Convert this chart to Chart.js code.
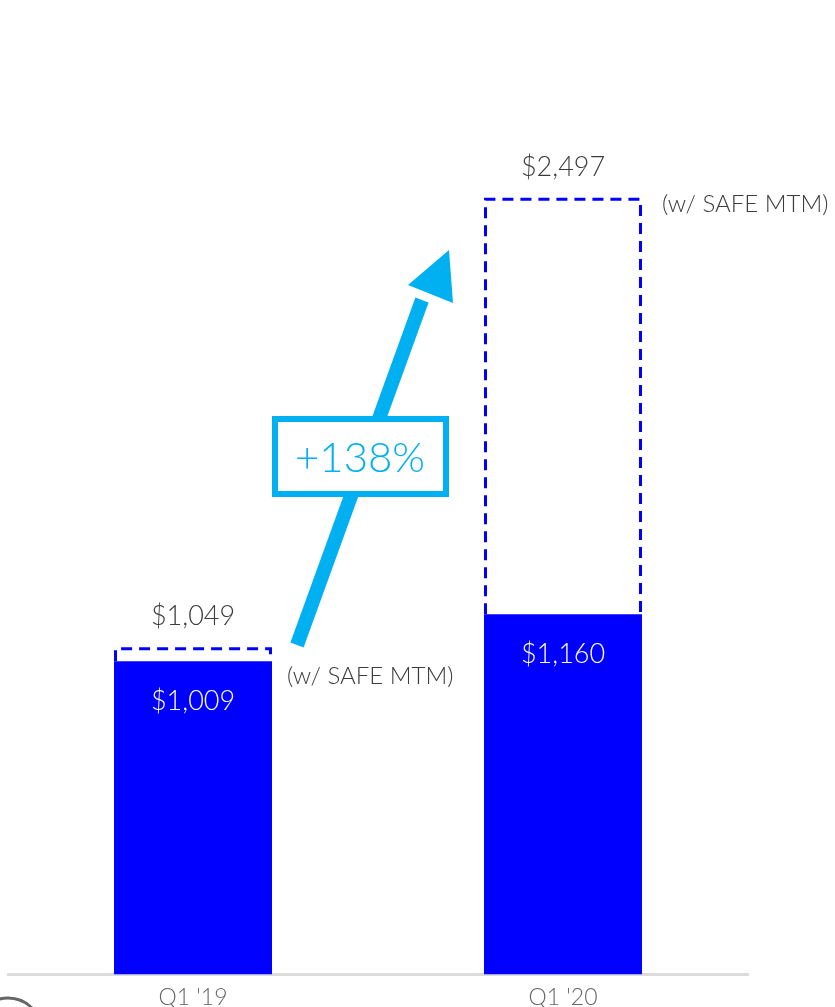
<!DOCTYPE html>
<html lang="en">
<head>
<meta charset="UTF-8">
<script src="https://cdn.jsdelivr.net/npm/chart.js"></script>
<title>Net loss Q1</title>
<style>
	body { margin: 0; background: #fff; }
	#zona { width: 835px; height: 1007px; }
</style>
</head>
<body>
<div id="zona"><canvas id="myChart" width="835" height="1007"></canvas></div>
<script>
// datos del grafico
const categories = ["Q1 '19", "Q1 '20"];
const netLoss = [1009, 1160];
const netLossSafe = [1049, 2497];
const innerLabels = ['$1,009', '$1,160'];
const topLabels = ['$1,049', '$2,497'];
const noteLabel = '(w/ SAFE MTM)';
const growthLabel = '+138%';

const FONT = 'Lato, "Noto Sans", sans-serif';
const BLUE = '#0000ff';
const CYAN = '#00b0f0';

// dibuja el contorno discontinuo, las etiquetas y la flecha
const extras = {
	id: 'extras',
	afterDatasetsDraw(chart) {
		const ctx = chart.ctx;
		const solid = chart.getDatasetMeta(0).data;
		const dashed = chart.getDatasetMeta(1).data;
		ctx.save();

		// contorno discontinuo
		ctx.strokeStyle = BLUE;
		ctx.lineWidth = 3;
		ctx.setLineDash([11, 7]);
		dashed.forEach(el => {
			const l = el.x - el.width / 2 + 1.5, r = el.x + el.width / 2 - 1.5;
			ctx.beginPath();
			ctx.moveTo(l, el.base);
			ctx.lineTo(l, el.y);
			ctx.lineTo(r, el.y);
			ctx.lineTo(r, el.base);
			ctx.stroke();
		});
		ctx.setLineDash([]);

		ctx.textAlign = 'center';
		ctx.textBaseline = 'middle';
		ctx.font = '300 27px ' + FONT;
		dashed.forEach((el, i) => {
			ctx.fillStyle = '#3c3c3c';
			ctx.fillText(topLabels[i], el.x, el.y - 32);
		});
		solid.forEach((el, i) => {
			ctx.fillStyle = '#fff';
			ctx.fillText(innerLabels[i], el.x, el.y + 40);
		});

		// notas (w/ SAFE MTM)
		ctx.font = '300 24px ' + FONT;
		ctx.fillStyle = '#3c3c3c';
		ctx.textAlign = 'left';
		ctx.fillText(noteLabel, dashed[0].x + dashed[0].width / 2 + 15, dashed[0].y + 28);
		ctx.fillText(noteLabel, dashed[1].x + dashed[1].width / 2 + 20, dashed[1].y + 5);

		// flecha
		ctx.strokeStyle = CYAN;
		ctx.fillStyle = CYAN;
		ctx.lineWidth = 14;
		ctx.beginPath();
		ctx.moveTo(297, 645);
		ctx.lineTo(422, 300);
		ctx.stroke();
		ctx.beginPath();
		ctx.moveTo(449, 250);
		ctx.lineTo(453, 303);
		ctx.lineTo(408, 285);
		ctx.closePath();
		ctx.fill();

		// caja +138%
		ctx.fillStyle = '#fff';
		ctx.fillRect(275, 419, 171, 75);
		ctx.lineWidth = 6;
		ctx.strokeRect(275, 419, 171, 75);
		ctx.fillStyle = CYAN;
		ctx.textAlign = 'center';
		ctx.font = '300 42px ' + FONT;
		ctx.fillText(growthLabel, 360, 458);

		// circulo cortado abajo a la izquierda
		ctx.strokeStyle = '#666';
		ctx.lineWidth = 3;
		ctx.beginPath();
		ctx.arc(8, 1032, 34, 0, Math.PI * 2);
		ctx.stroke();
		ctx.restore();
	}
};

const ctx = document.getElementById('myChart').getContext('2d');
const myChart = new Chart(ctx, {
	type: 'bar',
	data: {
		labels: categories,
		datasets: [{
			data: netLoss,
			backgroundColor: BLUE,
			borderWidth: 0,
			grouped: false,
			order: 1
		}, {
			data: netLoss.map((v, i) => [v, netLossSafe[i]]),
			backgroundColor: 'rgba(0,0,0,0)',
			borderWidth: 0,
			grouped: false,
			order: 2
		}]
	},
	options: {
		responsive: false,
		animation: false,
		layout: { padding: { left: 8, right: 87, top: 43, bottom: -13 } },
		plugins: { legend: { display: false }, tooltip: { enabled: false } },
		datasets: { bar: { barPercentage: 0.427, categoryPercentage: 1 } },
		scales: {
			x: {
				grid: { display: false, drawTicks: false },
				border: { color: '#dcdcdc', width: 3 },
				ticks: { color: '#666', font: { family: FONT, size: 23, weight: '300' }, padding: 9 }
			},
			y: { display: false, min: 0, max: 3000 }
		}
	},
	plugins: [extras]
});
</script>
</body>
</html>
